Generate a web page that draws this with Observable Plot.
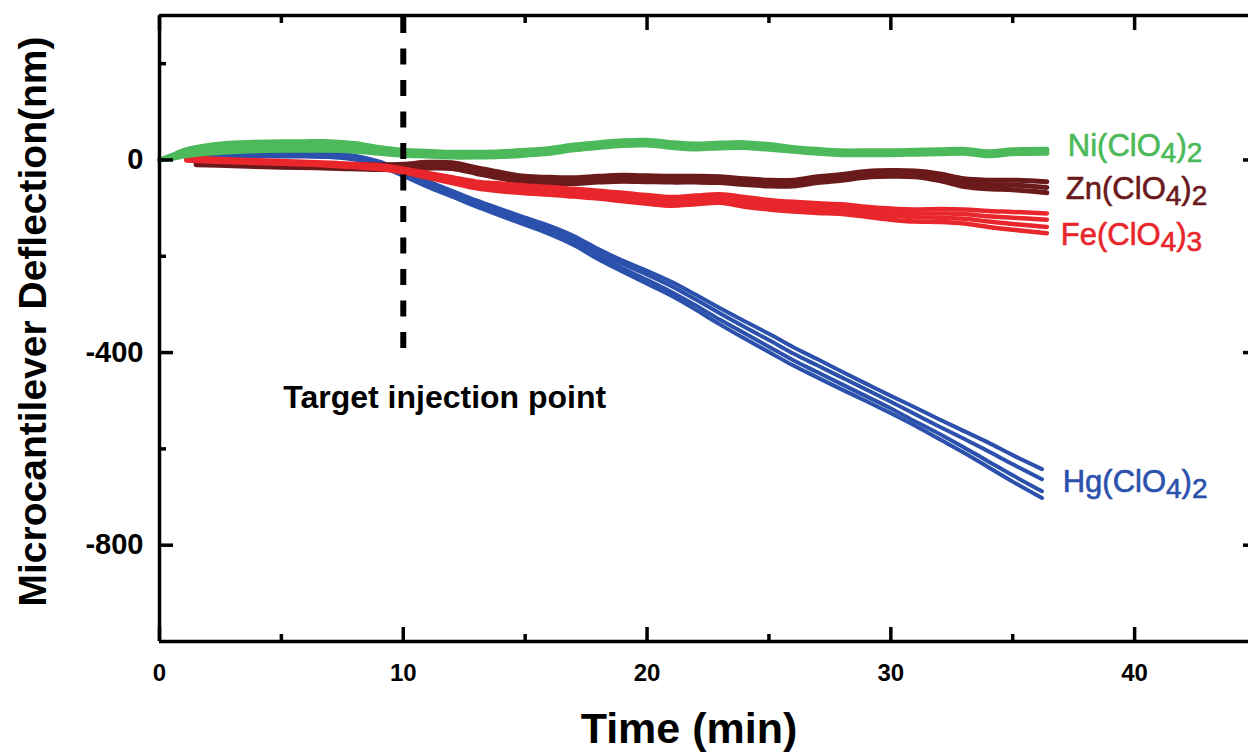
<!DOCTYPE html>
<html><head><meta charset="utf-8">
<script src="https://cdn.jsdelivr.net/npm/d3@7"></script>
<script src="https://cdn.jsdelivr.net/npm/@observablehq/plot@0.6"></script>
<style>
html,body{margin:0;padding:0;background:#fff;overflow:hidden}
</style></head><body><div id="chart"></div>
<script>
// ---- data ----
const hgT = [1.9,3,4,5,6,7,8,9,10,11,12,13,14,15,16,17,18,19,20,21,22,23,24,25,26,27,28,29,30,31,32,33,34,35,36.2];
const hgA = [17,16,16,15,15,14,9,-3,-23,-44,-64,-84,-102,-120,-137,-158,-185,-209,-230,-253,-280,-308,-335,-361,-389,-414,-440,-465,-490,-514,-539,-563,-587,-613,-642];
const hgB = [14,13,13,12,12,11,6,-6,-26,-48,-68,-88,-107,-125,-142,-164,-191,-216,-238,-262,-290,-319,-347,-374,-402,-427,-452,-477,-502,-528,-554,-579,-605,-632,-663];
const hgC = [12,11,11,10,10,9,3,-10,-30,-52,-72,-93,-112,-130,-148,-171,-199,-225,-249,-274,-302,-332,-360,-388,-416,-441,-466,-491,-516,-543,-569,-597,-626,-655,-688];
const hgD = [9,8,8,7,7,6,1,-13,-33,-56,-76,-97,-116,-135,-154,-177,-206,-232,-257,-282,-311,-342,-371,-399,-427,-452,-477,-501,-526,-552,-580,-608,-638,-668,-702];

const niT = [0,0.5,1,2,3,4,5,6,7,8,9,10,11,12,13,14,15,16,17,18,19,20,21,22,23,24,25,26,27,28,29,30,31,32,33,34,35,36.4];
const niA = [0,9,20,30,35,37,38,38,38,34,26,20,18,16,16,17,20,24,31,36,40,41,36,33,35,36,32,26,22,19,19,19,20,21,22,17,21,22];
const niB = [0,6,14,22,26,28,29,29,29,26,20,15,13,11,11,12,15,19,26,31,35,36,31,28,30,31,27,22,18,15,15,15,16,17,18,13,17,18];
const niC = [0,3,8,14,17,19,20,20,20,18,14,10,8,6,6,7,10,14,21,26,30,31,26,23,25,26,22,18,14,11,11,11,12,13,14,9,13,14];

const znT = [1.5,3,5,7,9,10,11,12,13,14,15,16,17,18,19,20,21,22,23,24,25,26,27,28,29,30,31,32,33,34,35,36.4];
const znA = [-4,-4,-7,-9,-10,-9,-5,-6,-16,-26,-34,-36,-37,-34,-32,-33,-34,-34,-35,-39,-42,-42,-35,-30,-24,-22,-23,-29,-39,-42,-42,-45];
const znB = [-7,-8,-11,-13,-15,-14,-11,-12,-22,-32,-40,-42,-43,-40,-38,-39,-40,-40,-41,-45,-48,-48,-41,-36,-30,-28,-29,-36,-47,-51,-52,-57];
const znC = [-10,-12,-15,-17,-20,-19,-17,-18,-28,-38,-46,-48,-49,-46,-44,-45,-46,-46,-47,-51,-54,-54,-47,-42,-36,-34,-35,-43,-55,-60,-62,-68];

const feT = [1.1,3,5,7,9,10,11,12,13,14,15,16,17,18,19,20,21,22,23,24,25,26,27,28,29,30,31,32,33,34,35,36.4];
const feA = [5,1,-2,-6,-11,-18,-27,-36,-45,-49,-53,-56,-60,-64,-68,-73,-77,-74,-71,-77,-83,-87,-90,-92,-97,-101,-103,-102,-103,-106,-108,-111];
const feB = [3,-1,-4,-8,-14,-21,-30,-40,-50,-54,-58,-61,-65,-69,-74,-79,-83,-80,-77,-84,-90,-94,-97,-99,-104,-109,-111,-111,-112,-117,-120,-124];
const feC = [1,-3,-6,-10,-16,-23,-34,-44,-54,-60,-64,-67,-71,-75,-80,-85,-89,-86,-83,-90,-96,-100,-103,-106,-111,-116,-119,-120,-122,-128,-133,-139];
const feD = [-1,-5,-8,-12,-19,-26,-37,-48,-59,-65,-69,-72,-76,-80,-86,-91,-95,-92,-89,-97,-103,-107,-110,-112,-118,-124,-128,-129,-132,-139,-145,-152];

const salts = [
  {name:"Hg(ClO4)2", color:"#2b51ad", t:hgT, reps:[hgA,hgB,hgC,hgD], width:4, labelT:37.05, labelV:-669},
  {name:"Zn(ClO4)2", color:"#6b1a1c", t:znT, reps:[znA,znB,znC], width:5, labelT:37.18, labelV:-61},
  {name:"Fe(ClO4)3", color:"#e8262b", t:feT, reps:[feA,feB,feC,feD], width:4.5, labelT:36.97, labelV:-155},
  {name:"Ni(ClO4)2", color:"#4cb95a", t:niT, reps:[niA,niB,niC], width:5, labelT:37.26, labelV:28}
];
const injectionTime = 10;
const xTicksMajor = [0,10,20,30,40];
const xTicksMinor = [5,15,25,35];
const yTicksMajor = [0,-400,-800];
const yTicksMinor = [200,-200,-600];

// ---- marks ----
const font = "'Liberation Sans', Arial, Helvetica, sans-serif";
const lineMarks = [];
salts.forEach(s => {
  s.reps.forEach((r) => {
    const rows = r.map((v, j) => ({t: s.t[j], v}));
    lineMarks.push(Plot.line(rows, {x:"t", y:"v", stroke:s.color, strokeWidth:s.width, curve:"catmull-rom", strokeLinejoin:"round", strokeLinecap:"round"}));
  });
});
const labelMarks = salts.map(s => Plot.text([s], {x:"labelT", y:"labelV", text:"name", fill:s.color, stroke:s.color, strokeWidth:0.6, fontSize:31, textAnchor:"start", lineAnchor:"middle", fontFamily:font, letterSpacing:"-0.5px"}));

const tickStyle = {stroke:"black", strokeWidth:3.5, tickFormat:() => ""};
const chart = Plot.plot({
  width: 1248, height: 753,
  marginTop: 15, marginLeft: 159, marginBottom: 112, marginRight: -8,
  x: {domain:[0,45], label:null},
  y: {domain:[-1000,300], label:null},
  style: {fontFamily: font, background:"#fff", overflow:"hidden", color:"black"},
  marks: [
    ...lineMarks,
    Plot.ruleX([injectionTime], {y1:296, y2:-400, stroke:"black", strokeWidth:6, strokeDasharray:"16 15.5"}),
    Plot.ruleY([300, -1000], {stroke:"black", strokeWidth:3.5}),
    Plot.ruleX([0], {stroke:"black", strokeWidth:3.5}),
    Plot.axisX({anchor:"bottom", ticks:xTicksMajor, tickSize:-14, ...tickStyle}),
    Plot.axisX({anchor:"bottom", ticks:xTicksMinor, tickSize:-7, ...tickStyle}),
    Plot.axisX({anchor:"top", ticks:xTicksMajor, tickSize:-14, ...tickStyle}),
    Plot.axisX({anchor:"top", ticks:xTicksMinor, tickSize:-7, ...tickStyle}),
    Plot.axisY({anchor:"left", ticks:yTicksMajor, tickSize:-14, ...tickStyle}),
    Plot.axisY({anchor:"left", ticks:yTicksMinor, tickSize:-7, ...tickStyle}),
    Plot.axisY({anchor:"right", ticks:yTicksMajor, tickSize:-14, ...tickStyle}),
    Plot.axisY({anchor:"right", ticks:yTicksMinor, tickSize:-7, ...tickStyle}),
    Plot.axisX({anchor:"bottom", ticks:xTicksMajor, tickSize:0, tickPadding:22, fontSize:24, fontWeight:"bold", fill:"black", tickFormat:d => String(d)}),
    Plot.axisY({anchor:"left", ticks:yTicksMajor, tickSize:0, tickPadding:16, fontSize:29, fontWeight:"bold", fill:"black", tickFormat:d => String(d)}),
    ...labelMarks,
    Plot.text(["Target injection point"], {x:11.7, y:-494, text:d => d, fontSize:32, fontWeight:"bold", fill:"black", textAnchor:"middle", lineAnchor:"middle"}),
    Plot.text(["Time (min)"], {frameAnchor:"bottom", text:d => d, dx:-19, dy:88, fontSize:43, fontWeight:"bold", fill:"black", textAnchor:"middle", lineAnchor:"middle"}),
    Plot.text(["Microcantilever Deflection(nm)"], {frameAnchor:"left", text:d => d, rotate:-90, dx:-126, dy:-7, fontSize:39, fontWeight:"bold", fill:"black", textAnchor:"middle", lineAnchor:"middle"})
  ]
});
document.getElementById("chart").appendChild(chart);

// subscripts in the formula labels
chart.querySelectorAll("text").forEach(el => {
  const s = el.textContent;
  if (!/ClO/.test(s)) return;
  el.textContent = "";
  let shifted = false;
  (s.match(/\d+|\D+/g) || []).forEach(p => {
    const ts = document.createElementNS("http://www.w3.org/2000/svg", "tspan");
    ts.textContent = p;
    if (/\d/.test(p)) {
      ts.setAttribute("font-size", "28");
      if (!shifted) { ts.setAttribute("dy", "6"); shifted = true; }
    } else if (shifted) {
      ts.setAttribute("dy", "-6"); shifted = false;
    }
    el.appendChild(ts);
  });
});
</script></body></html>
